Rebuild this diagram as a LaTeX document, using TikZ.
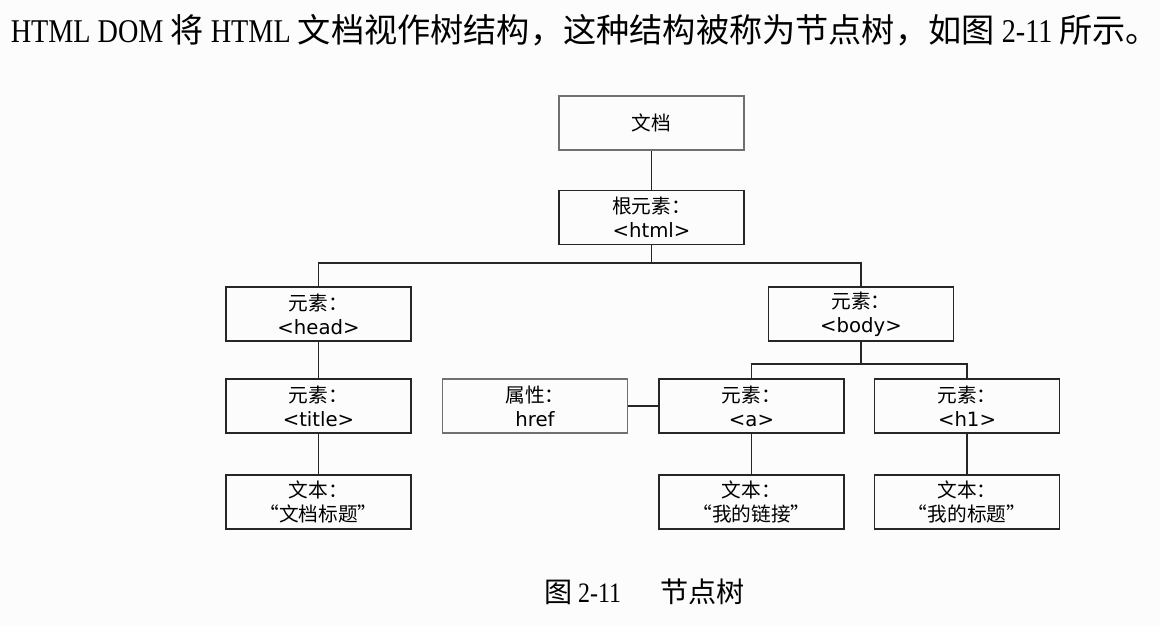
\documentclass[tikz,border=0pt]{standalone}
\usepackage{fontspec}
\setmainfont{Liberation Serif}[FakeStretch=0.85]
\newfontfamily\cjk{Noto Sans CJK SC}
\newfontfamily\tagfont{DejaVu Sans}
\usepackage{xcolor}
\definecolor{ink}{HTML}{262626}
\definecolor{greyline}{HTML}{707070}
\definecolor{paper}{HTML}{FCFCFC}
\usetikzlibrary{positioning,calc}
\tikzset{
  every picture/.style={line width=1.1pt},
  box/.style={draw=ink, line width=1.3pt, align=center, inner sep=0pt,
    minimum width=4.625cm, minimum height=1.35cm,
    font={\tagfont\fontsize{14}{17}\selectfont}},
  faint/.style={box, draw=greyline},
  link/.style={draw=ink, line width=1.1pt},
}
\newcommand{\zh}[1]{{\cjk #1}}

\begin{document}
\begin{tikzpicture}[x=0.025cm, y=-0.025cm]
  \fill[paper] (0,0) rectangle (1160,626);
  \useasboundingbox (0,0) rectangle (1160,626);
  \node[anchor=west, inner sep=0pt, font=\fontsize{23.6}{27}\selectfont] (intro) at (10,30)
    {HTML DOM \zh{将} HTML \zh{文档视作树结构，这种结构被称为节点树，如图} 2-11 \zh{所示。}};
  \node[faint] (doc)   at (651.5,123)   {\zh{文档}};
  \node[box]   (root)  at (651.5,217.5) {\zh{根元素：}\\<html>};
  \node[box]   (head)  at (318.5,314)   {\zh{元素：}\\<head>};
  \node[box]   (body)  at (861,314)     {\zh{元素：}\\<body>};
  \node[box]   (title) at (318.5,406)   {\zh{元素：}\\<title>};
  \node[faint] (href)  at (535,406)     {\zh{属性：}\\href};
  \node[box]   (a)     at (751.5,406)   {\zh{元素：}\\<a>};
  \node[box]   (h1)    at (967,406)     {\zh{元素：}\\<h1>};
  \node[box]   (t1)    at (318.5,502)   {\zh{文本：}\\\zh{“文档标题”}};
  \node[box]   (t2)    at (751.5,502)   {\zh{文本：}\\\zh{“我的链接”}};
  \node[box]   (t3)    at (967,502)     {\zh{文本：}\\\zh{“我的标题”}};
  \node[font=\fontsize{20}{23}\selectfont] (cap) at (644.5,592)
    {\zh{图} 2-11\hspace{1.4em}\zh{节点树}};
  \coordinate (fork)  at (651.5,263);
  \coordinate (bfork) at (861,364);
  \draw[link] (doc) -- (root);
  \draw[link] (root) -- (fork);
  \draw[link] (head.north) |- (fork) -| (body.north);
  \draw[link] (head) -- (title);
  \draw[link] (title) -- (t1);
  \draw[link] (body) -- (bfork);
  \draw[link] (a.north) |- (bfork) -| (h1.north);
  \draw[link] (href) -- (a);
  \draw[link] (a) -- (t2);
  \draw[link] (h1) -- (t3);
\end{tikzpicture}
\end{document}
